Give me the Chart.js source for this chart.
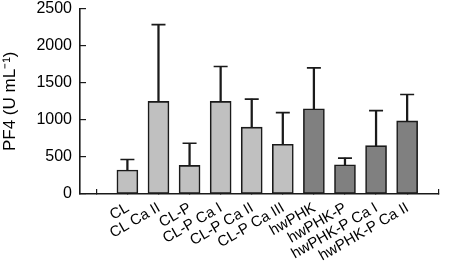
<!DOCTYPE html>
<html>
<head>
<meta charset="utf-8">
<script src="https://cdn.jsdelivr.net/npm/chart.js@4/dist/chart.umd.min.js"></script>
<style>
  html, body { margin: 0; padding: 0; background: #fff; }
  #wrap { width: 457px; height: 264px; }
</style>
</head>
<body>
<div id="wrap"><canvas id="pf4Chart"></canvas></div>
<script>
// values
const categories = ['CL', 'CL Ca II', 'CL-P', 'CL-P Ca I', 'CL-P Ca II', 'CL-P Ca III',
                    'hwPHK', 'hwPHK-P', 'hwPHK-P Ca I', 'hwPHK-P Ca II'];
const meanValues = [324, 1248, 385, 1248, 901, 671, 1150, 395, 652, 985];
const sdValues = [141, 1036, 299, 471, 378, 426, 551, 89, 472, 356];
const yTicks = [0, 500, 1000, 1500, 2000, 2500];

const lightGrey = '#c0c0c0';
const darkGrey = '#808080';
const barColors = categories.map(c => c.startsWith('hw') ? darkGrey : lightGrey);

const family = 'Liberation Sans, Arial, sans-serif';

const ctx = document.getElementById('pf4Chart').getContext('2d');
new Chart(ctx, {
  type: 'bar',
  data: {
    datasets: [
      {
        // the bars
        data: meanValues.map((v, i) => ({ x: i, y: v })),
        backgroundColor: barColors,
        borderColor: '#1a1a1a',
        borderWidth: 1.6,
        borderSkipped: false,
        barThickness: 21,
        grouped: false,
        order: 1,
      },
      {
        // error bar stems
        data: meanValues.map((v, i) => ({ x: i, y: [v, v + sdValues[i]] })),
        backgroundColor: '#1a1a1a',
        borderWidth: 0,
        barThickness: 1.6,
        grouped: false,
        order: 2,
      },
      {
        // error bar caps
        type: 'scatter',
        data: meanValues.map((v, i) => ({ x: i, y: v + sdValues[i] })),
        pointStyle: 'line',
        pointRadius: 7,
        borderColor: '#1a1a1a',
        borderWidth: 1.6,
        order: 0,
      },
    ],
  },
  options: {
    responsive: true,
    maintainAspectRatio: false,
    animation: false,
    events: [],
    layout: { padding: { top: 6, right: 18, left: 0, bottom: 0 } },
    plugins: {
      legend: { display: false },
      tooltip: { enabled: false },
    },
    scales: {
      x: {
        type: 'linear',
        min: -1,
        max: 9.5,
        afterBuildTicks: scale => {
          scale.ticks = categories.map((_, i) => ({ value: i - 0.5 })).concat([{ value: 9.5 }]);
        },
        afterFit: scale => {
          scale.height = 70;
          scale.paddingLeft = 0;
          scale.paddingRight = 0;
        },
        border: { display: true, color: '#1a1a1a', width: 1.6 },
        grid: { drawOnChartArea: false, tickLength: -5, color: '#1a1a1a', lineWidth: 1.2 },
        ticks: {
          autoSkip: false,
          minRotation: 30,
          maxRotation: 30,
          labelOffset: 16,
          padding: 10,
          color: '#000',
          font: { family, size: 15 },
          callback: (value, index) => categories[index] || '',
        },
      },
      y: {
        min: 0,
        max: 2500,
        afterBuildTicks: scale => {
          scale.ticks = yTicks.map(v => ({ value: v }));
        },
        afterFit: scale => {
          scale.width = 80;
          scale.paddingTop = 0;
          scale.paddingBottom = 0;
        },
        border: { display: true, color: '#1a1a1a', width: 1.6 },
        grid: { drawOnChartArea: false, tickLength: -6, color: '#1a1a1a', lineWidth: 1.2 },
        ticks: {
          padding: 14,
          color: '#000',
          font: { family, size: 16 },
          callback: value => String(value),
        },
        title: {
          display: true,
          text: 'PF4 (U mL⁻¹)',
          color: '#000',
          font: { family, size: 17 },
          padding: { top: 0, bottom: 0 },
        },
      },
    },
  },
});
</script>
</body>
</html>
